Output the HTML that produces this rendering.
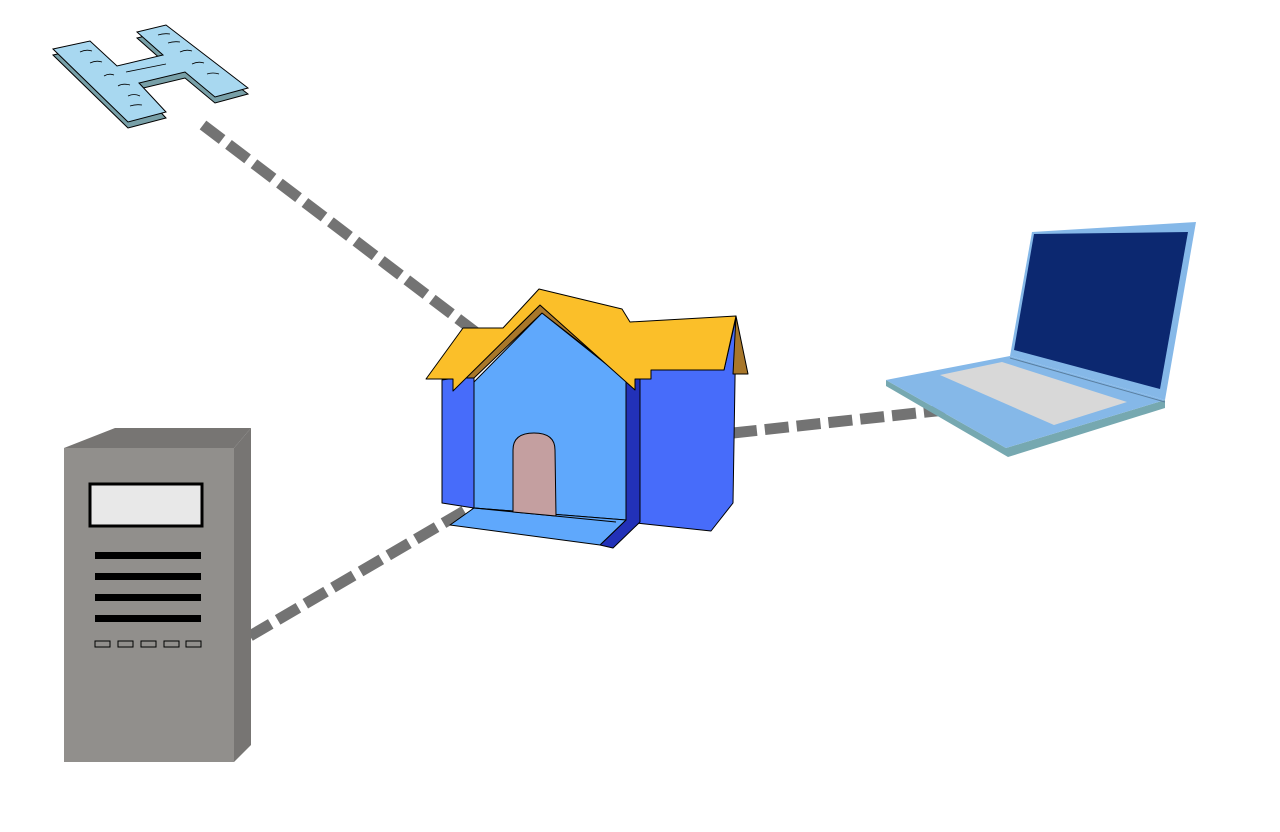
<!DOCTYPE html>
<html><head><meta charset="utf-8"><style>html,body{margin:0;padding:0;background:#fff}svg{display:block}</style></head>
<body>
<svg width="1280" height="832" viewBox="0 0 1280 832" xmlns="http://www.w3.org/2000/svg">
<g stroke="#737373" stroke-width="11" stroke-dasharray="24,8" fill="none">
<line x1="203" y1="125" x2="478" y2="334"/>
<line x1="250" y1="636" x2="478" y2="503"/>
<line x1="733" y1="433" x2="945" y2="410"/>
</g>
<!-- H sign -->
<g stroke="#000" stroke-width="1">
<polygon points="53,55 90,47 117,72 163,61 137,38 166,31 248,94 215,103 185,78 139,89 166,118 128,128" fill="#78a0a8"/>
<polygon points="53,49 90,41 117,66 163,55 137,32 166,25 248,88 215,97 185,72 139,83 166,112 128,122" fill="#a8d8f0"/>
<g fill="none" stroke-width="0.8">
<path d="M80,52 q6,-3 12,-1"/><path d="M90,63 q6,-3 12,-1"/><path d="M104,76 q5,-3 10,-1"/><path d="M118,86 q5,-3 12,-1"/><path d="M128,96 q6,-3 12,0"/><path d="M130,106 q6,-2 12,-1"/>
<path d="M126,72 q20,-4 40,-8"/><path d="M158,35 q6,-2 12,-1"/><path d="M168,43 q6,-2 12,-1"/><path d="M180,52 q6,-3 12,-1"/><path d="M192,64 q6,-3 12,-1"/><path d="M207,74 q6,-2 12,0"/>
</g></g>
<!-- Server -->
<polygon points="64,448 115,428 251,428 234,448" fill="#777573"/>
<polygon points="234,448 251,428 251,745 234,762" fill="#777573"/>
<rect x="64" y="448" width="170" height="314" fill="#918f8c"/>
<rect x="90" y="484" width="112" height="42" fill="#e8e8e8" stroke="#000" stroke-width="3"/>
<g fill="#000"><rect x="95" y="552" width="106" height="7"/><rect x="95" y="573" width="106" height="7"/><rect x="95" y="594" width="106" height="7"/><rect x="95" y="615" width="106" height="7"/></g>
<g fill="none" stroke="#000" stroke-width="1"><rect x="95" y="641" width="15" height="6"/><rect x="118" y="641" width="15" height="6"/><rect x="141" y="641" width="15" height="6"/><rect x="164" y="641" width="15" height="6"/><rect x="186" y="641" width="15" height="6"/></g>
<!-- Laptop -->
<polygon points="886,380 886,386 1008,457 1165,408 1165,400 1006,448" fill="#76a8b0"/>
<polygon points="886,380 1010,356 1165,400 1006,448" fill="#85b8e8"/>
<polygon points="1032,232 1196,222 1165,400 1010,356" fill="#85b8e8"/>
<polygon points="1034,234 1188,232 1160,389 1014,350" fill="#0c2870"/>
<line x1="1010" y1="358" x2="1165" y2="402" stroke="#5a7fa0" stroke-width="1"/>
<polygon points="940,375 1002,362 1127,402 1054,425" fill="#d8d8d8"/>
<!-- House -->
<g stroke="#000" stroke-width="1" stroke-linejoin="round">
<polygon points="442,380 474,375 474,508 442,503" fill="#476cfa"/>
<polygon points="636,370 724,370 736,318 733,503 711,531 636,523" fill="#476cfa"/>
<polygon points="625,380 640,368 640,522 613,548 600,545 626,520" fill="#2231b8"/>
<polygon points="474,382 542,313 626,380 626,520 474,508" fill="#5fa8fc"/>
<polygon points="450,525 474,508 626,520 600,545" fill="#5fa8fc"/>
<line x1="474" y1="508" x2="616" y2="522"/>
<path d="M513,512 L513,450 Q513,433 534,433 Q555,433 555,450 L556,516 Z" fill="#c49fa0"/>
<polygon points="736,316 748,374 733,374" fill="#a8772a"/>
<polygon points="466,378 540,305 600,358 542,313 474,378" fill="#a8772a"/>
<polygon points="426,379 463,328 503,328 539,289 622,309 630,322 736,316 724,370 651,370 651,379 635,379 635,390 540,305 453,391 453,379" fill="#fbbf29"/>
</g>
</svg>
</body></html>
